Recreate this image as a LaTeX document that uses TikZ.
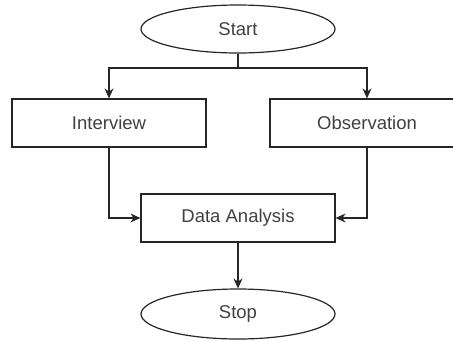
\documentclass[tikz,border=0pt]{standalone}
\usepackage{fontspec}
\setmainfont{Liberation Sans}
\usetikzlibrary{shapes.geometric,arrows.meta}
\begin{document}
\begin{tikzpicture}[x=1pt,y=-1pt,
  term/.style={draw=black!85,line width=1.2pt,ellipse,minimum width=194pt,minimum height=48pt,inner sep=0pt,text=black!75,font=\fontsize{18.5}{22}\selectfont},
  proc/.style={draw=black!85,line width=1.2pt,rectangle,minimum width=194pt,minimum height=48pt,inner sep=0pt,text=black!75,font=\fontsize{18.5}{22}\selectfont},
  flow/.style={draw=black!85,line width=1.2pt,-{Stealth[length=10pt,width=9pt]}}]
\useasboundingbox (0,0) rectangle (453,341);
\clip (0,0) rectangle (453,341);
\node[term] (start) at (238,29) {Start};
\node[proc] (inter) at (109,123) {Interview};
\node[proc] (obs) at (367,123) {Observation};
\node[proc] (da) at (238,218) {Data Analysis};
\node[term,minimum height=50pt] (stop) at (238,314) {Stop};
\coordinate (split) at (238,68);
\draw[draw=black!85,line width=1.2pt] (start.south) -- (split);
\draw[flow] (split) -| (inter.north);
\draw[flow] (split) -| (obs.north);
\draw[flow] (inter.south) |- (da.west);
\draw[flow] (obs.south) |- (da.east);
\draw[flow] (da.south) -- (stop.north);
\end{tikzpicture}
\end{document}
